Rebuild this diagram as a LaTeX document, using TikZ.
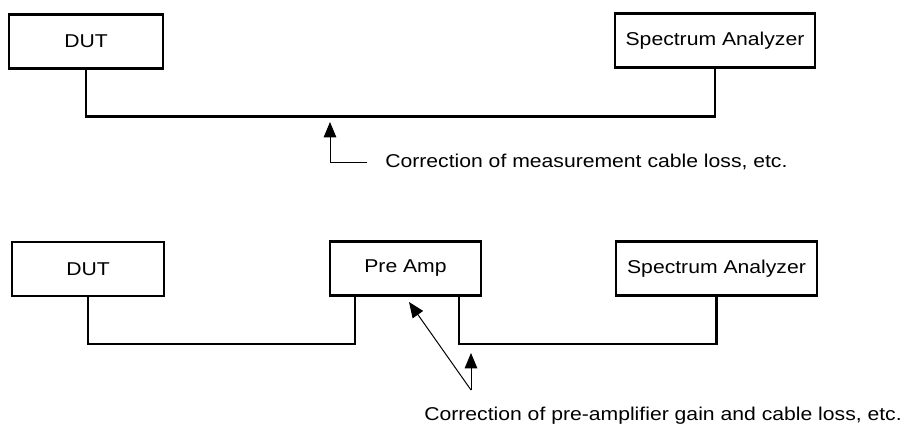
\documentclass[tikz,border=0pt]{standalone}
\usepackage{fontspec}
\setmainfont[FakeStretch=1.14]{Liberation Sans}
\usepackage{tikz}
\usetikzlibrary{arrows.meta,positioning,calc}

\begin{document}
\begin{tikzpicture}[x=0.025cm,y=-0.025cm,font=\fontsize{13.2}{15}\selectfont,
    unit/.style={draw,line width=1.5pt,minimum height=54*0.025cm,inner sep=0pt},
    cable/.style={line width=1.5pt},
    remark/.style={anchor=west,inner sep=0pt},
    pointer/.style={line width=0.7pt,-{Triangle[length=11pt,width=9pt]}}]
  \useasboundingbox (0,0) rectangle (908,427);

  % direct measurement
  \node[unit,minimum width=154*0.025cm] (dutA) at (86,41.5) {DUT};
  \node[unit,minimum width=200*0.025cm] (saA) at (715,40.5) {Spectrum Analyzer};
  \draw[cable] (dutA.south) -- ++(0,47) -| (saA.south);
  \node[remark] (noteA) at (385,162) {Correction of measurement cable loss, etc.};
  \coordinate (tipA) at (330,122);
  \draw[pointer] ([xshift=-18*0.025cm]noteA.west) -| (tipA);

  % with pre-amplifier
  \node[unit,minimum width=152*0.025cm] (dutB) at (88,269) {DUT};
  \node[unit,minimum width=151*0.025cm] (amp) at (405.5,268.5) {Pre Amp};
  \node[unit,minimum width=201*0.025cm] (saB) at (716.5,268.5) {Spectrum Analyzer};
  \draw[cable] (dutB.south) -- ++(0,47) -| ($(amp.south west)+(26,0)$);
  \draw[cable] ($(amp.south east)+(-23,0)$) -- ++(0,47) -| (saB.south);
  \node[remark] (noteB) at (424,416) {Correction of pre-amplifier gain and cable loss, etc.};
  \coordinate (fork) at (471,390);
  \draw[pointer] (fork) -- (409,302);
  \draw[pointer] (fork) -- (471,353);
\end{tikzpicture}
\end{document}
